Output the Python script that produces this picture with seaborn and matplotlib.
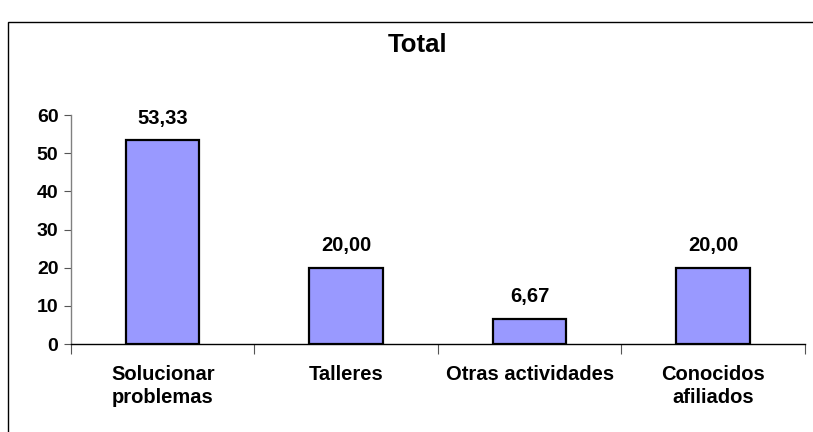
import matplotlib
matplotlib.use("Agg")
import matplotlib.pyplot as plt
import matplotlib.patches as patches
import seaborn as sns
import pandas as pd

# data
categories = ["Solucionar\nproblemas", "Talleres", "Otras actividades", "Conocidos\nafiliados"]
values = [53.33, 20.00, 6.67, 20.00]
yticks = [0, 10, 20, 30, 40, 50, 60]

df = pd.DataFrame({"cat": categories, "val": values})

sns.set_style("white")
plt.rcParams["font.family"] = ["Liberation Sans", "DejaVu Sans"]
plt.rcParams["font.weight"] = "bold"
plt.rcParams["text.color"] = "black"
plt.rcParams["xtick.color"] = "black"
plt.rcParams["ytick.color"] = "black"

fig = plt.figure(figsize=(8.13, 4.32), dpi=100)
ax = fig.add_axes([0.0873, 0.2037, 0.9027, 0.530])

sns.barplot(data=df, x="cat", y="val", color="#9999FF", edgecolor="black",
            linewidth=1.6, width=0.4, saturation=1, ax=ax)

labels = [f"{v:.2f}".replace(".", ",") for v in values]
ax.bar_label(ax.containers[0], labels=labels, padding=9, fontsize=14.5,
             fontweight="bold", color="black")

ax.set_ylim(0, 60)
ax.set_xlim(-0.5, len(categories) - 0.5)
ax.set_yticks(yticks)
ax.set_yticklabels([str(t) for t in yticks], fontsize=14, fontweight="bold")
ax.set_xticks(range(len(categories)))
ax.set_xticklabels(categories, fontsize=14.5, fontweight="bold", linespacing=1.25)
ax.set_xticks([i - 0.5 for i in range(len(categories) + 1)], minor=True)
ax.tick_params(axis="x", which="major", length=0, pad=15)
ax.tick_params(axis="x", which="minor", length=7, width=0.8, color="#555555", direction="out", bottom=True)
ax.tick_params(axis="y", length=5, width=0.8, color="#555555", labelcolor="black",
               direction="out", left=True, pad=4)
ax.set_xlabel("")
ax.set_ylabel("")

for s in ["top", "right"]:
    ax.spines[s].set_visible(False)
ax.spines["left"].set_color("#808080")
ax.spines["left"].set_linewidth(1.0)
ax.spines["bottom"].set_color("black")
ax.spines["bottom"].set_linewidth(1.0)

fig.text(0.513, 0.896, "Total", ha="center", va="center", fontsize=18.5,
         fontweight="bold", color="black")

# chart area border
border = patches.Rectangle((0.0098, -0.05), 1.2, 0.999, transform=fig.transFigure,
                           fill=False, edgecolor="black", linewidth=1.0)
fig.patches.append(border)

fig.savefig("out.png", dpi=100)
